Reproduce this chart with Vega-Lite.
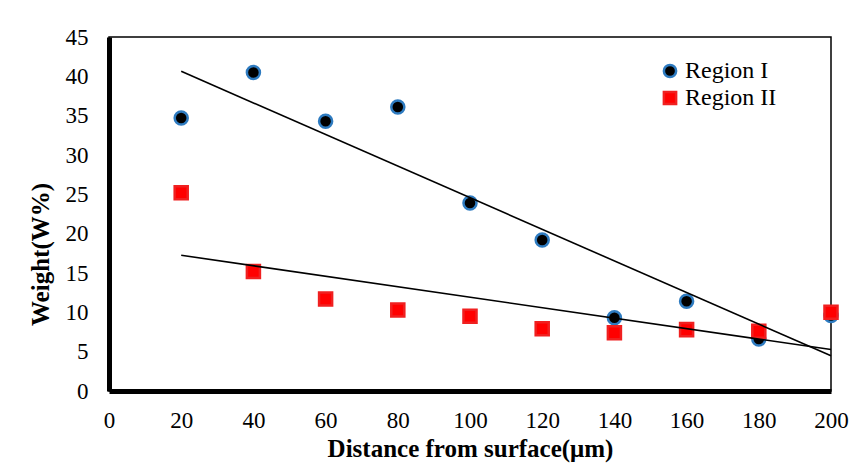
{
  "$schema": "https://vega.github.io/schema/vega-lite/v6.json",
  "width": 722,
  "height": 354,
  "autosize": {"type": "none"},
  "padding": {"left": 109, "top": 37, "right": 30, "bottom": 72},
  "background": "white",
  "config": {
    "font": "Liberation Serif",
    "view": {"stroke": "black", "strokeWidth": 1.5},
    "axis": {"grid": false, "ticks": false, "domainColor": "black", "domainWidth": 5, "labelColor": "black", "titleColor": "black", "labelFont": "Liberation Serif", "titleFont": "Liberation Serif", "labelOverlap": false, "labelFlush": false, "zindex": 2}
  },
  "data": {
    "values": [
      {"x": 20, "y": 34.7, "series": "Region I"},
      {"x": 40, "y": 40.5, "series": "Region I"},
      {"x": 60, "y": 34.3, "series": "Region I"},
      {"x": 80, "y": 36.1, "series": "Region I"},
      {"x": 100, "y": 23.9, "series": "Region I"},
      {"x": 120, "y": 19.2, "series": "Region I"},
      {"x": 140, "y": 9.3, "series": "Region I"},
      {"x": 160, "y": 11.4, "series": "Region I"},
      {"x": 180, "y": 6.6, "series": "Region I"},
      {"x": 200, "y": 9.6, "series": "Region I"},
      {"x": 20, "y": 25.2, "series": "Region II"},
      {"x": 40, "y": 15.2, "series": "Region II"},
      {"x": 60, "y": 11.7, "series": "Region II"},
      {"x": 80, "y": 10.3, "series": "Region II"},
      {"x": 100, "y": 9.5, "series": "Region II"},
      {"x": 120, "y": 7.9, "series": "Region II"},
      {"x": 140, "y": 7.4, "series": "Region II"},
      {"x": 160, "y": 7.8, "series": "Region II"},
      {"x": 180, "y": 7.6, "series": "Region II"},
      {"x": 200, "y": 10.0, "series": "Region II"}
    ]
  },
  "encoding": {
    "x": {"field": "x", "type": "quantitative", "scale": {"domain": [0, 200], "nice": false},
      "axis": {"values": [0, 20, 40, 60, 80, 100, 120, 140, 160, 180, 200], "domainWidth": 5, "domainColor": "black", "labelFontSize": 23, "labelPadding": 18, "labelOverlap": false,
        "title": "Distance from surface(μm)", "titleFontSize": 25, "titleFontWeight": "bold", "titleY": 57, "titleBaseline": "middle"}},
    "y": {"field": "y", "type": "quantitative", "scale": {"domain": [0, 45], "nice": false},
      "axis": {"values": [0, 5, 10, 15, 20, 25, 30, 35, 40, 45], "domainWidth": 5, "domainColor": "black", "labelFontSize": 23, "labelPadding": 21, "labelOverlap": false,
        "title": "Weight(W%)", "titleFontSize": 25, "titleFontWeight": "bold", "titleAngle": -90, "titleX": -69, "titleY": 217, "titleAlign": "center", "titleBaseline": "middle"}}
  },
  "layer": [
    {
      "mark": {"type": "point", "filled": true, "opacity": 1, "strokeWidth": 2.5, "size": 170},
      "encoding": {
        "shape": {"field": "series", "type": "nominal", "scale": {"domain": ["Region I", "Region II"], "range": ["circle", "square"]},
          "legend": {"title": null, "orient": "none", "legendX": 549, "legendY": 22, "labelFontSize": 24, "labelFont": "Liberation Serif", "labelColor": "black", "symbolSize": 150, "rowPadding": 3, "labelOffset": 3, "symbolStrokeWidth": 2.5}},
        "fill": {"field": "series", "type": "nominal", "scale": {"domain": ["Region I", "Region II"], "range": ["black", "#ff0000"]}},
        "stroke": {"field": "series", "type": "nominal", "scale": {"domain": ["Region I", "Region II"], "range": ["#2e7bc0", "#f02020"]}},
        "order": {"field": "series", "type": "nominal"}
      }
    },
    {
      "transform": [{"regression": "y", "on": "x", "groupby": ["series"]}],
      "mark": {"type": "line", "color": "black", "strokeWidth": 1.6},
      "encoding": {
        "detail": {"field": "series", "type": "nominal"}
      }
    }
  ]
}
